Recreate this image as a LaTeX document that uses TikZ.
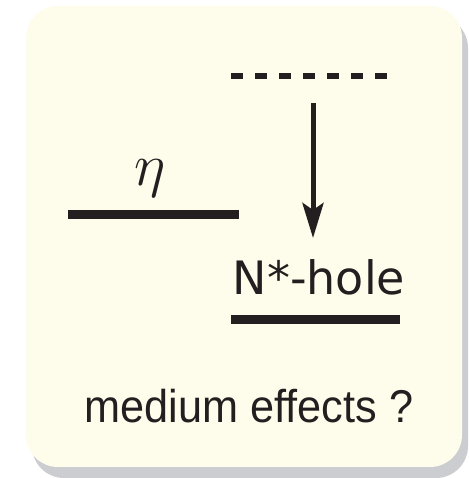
\RequirePackage{fix-cm}
\documentclass[tikz,border=0pt]{standalone}
\usepackage{fontspec}
\setmainfont{Liberation Sans}
\newfontfamily\handfont{DejaVu Sans}
\usepackage{tikz}
\usetikzlibrary{arrows.meta,positioning}
\definecolor{lvcream}{RGB}{254,252,234}
\definecolor{lvshadow}{RGB}{204,205,208}
\definecolor{lvink}{RGB}{35,31,32}

\begin{document}
\begin{tikzpicture}[
  x=1pt,y=1pt,
  panel/.style={rounded corners=32pt},
  level/.style={lvink,line width=9pt},
  virtual/.style={lvink,line width=6pt,dash pattern=on 12pt off 12pt},
  decay/.style={-{Stealth[length=35pt,width=21pt,inset=7pt]},lvink,line width=5pt},
  lbl/.style={inner sep=0pt,anchor=base,text=lvink}
]
  \useasboundingbox (0,0) rectangle (468,478);
  % card with drop shadow
  \fill[panel,lvshadow] (32,0) rectangle (468,462);
  \fill[panel,lvcream] (26,11) rectangle (462,472);

  % levels
  \coordinate (etaL) at (68,263);
  \coordinate (etaR) at (239,263);
  \coordinate (holeL) at (231,158);
  \coordinate (holeR) at (400,158);
  \coordinate (virtL) at (231,402);
  \coordinate (virtR) at (388,402);
  \draw[level] (etaL) -- (etaR);
  \draw[level] (holeL) -- (holeR);
  \draw[virtual] (virtL) -- (virtR);

  \node[lbl,font=\fontsize{60}{60}\selectfont] (eta) at (150,292) {$\eta$};
  \node[lbl,font=\handfont\fontsize{46}{46}\selectfont] (hole) at (319,183) {N*-hole};
  \node[lbl,font=\fontsize{46}{46}\selectfont,xscale=0.94,transform shape] (medium) at (249,55) {medium effects ?};

  % transition
  \coordinate (decayTop) at (313,375);
  \coordinate (decayTip) at (313,240);
  \draw[decay] (decayTop) -- (decayTip);
\end{tikzpicture}
\end{document}
